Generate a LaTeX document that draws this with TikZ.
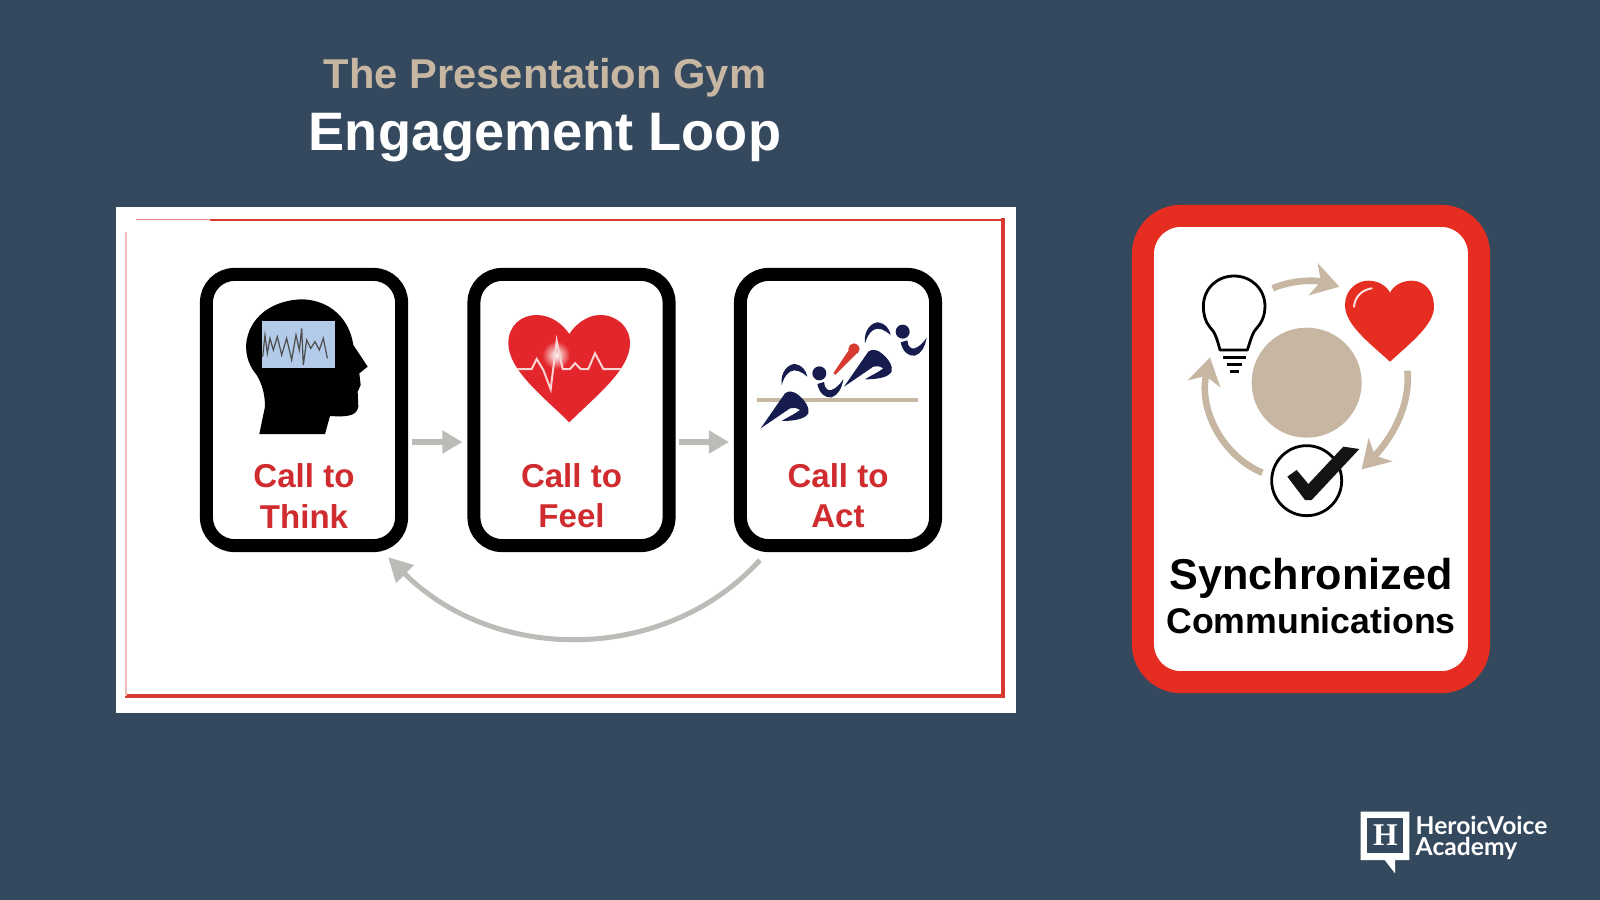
\documentclass[tikz,border=0pt]{standalone}
\usepackage{fontspec}
\setmainfont{Liberation Sans}
\newfontfamily\logofont{Lato}
\newfontfamily\slabfont{Liberation Serif}
\usetikzlibrary{arrows.meta}

\definecolor{bgblue}{HTML}{35495E}
\definecolor{tan}{HTML}{C6B6A2}
\definecolor{callred}{HTML}{D02B2E}
\definecolor{heartred}{HTML}{E3262B}
\definecolor{badgered}{HTML}{E52D22}
\definecolor{framered}{HTML}{D63A30}
\definecolor{runnerblue}{HTML}{171C4E}
\definecolor{arrowgray}{HTML}{BBBBB8}
\definecolor{screenblue}{HTML}{B3CBE8}

\tikzset{
  callbox/.style={draw=black,fill=white,line width=.13cm,rounded corners=.28cm,minimum width=1.95cm,minimum height=2.71cm},
  calltext/.style={text=callred,font=\fontsize{9.4}{11.4}\selectfont\bfseries,align=center},
  grayarrow/.style={arrowgray,line width=.06cm,-{Triangle[length=.2cm,width=.22cm]}},
  tanarrow/.style={tan,line width=.066cm,-{Stealth[length=.27cm,width=.33cm,inset=.08cm]}},
}

\begin{document}
\begin{tikzpicture}[x=.01cm,y=-.01cm]
\path[use as bounding box,fill=bgblue] (0,0) rectangle (1600,900);

% title
\node[text=tan,font=\fontsize{11.85}{13}\selectfont\bfseries] (gym) at (545,78) {The Presentation Gym};
\node[text=white,font=\fontsize{15.4}{18}\selectfont\bfseries] (loop) at (545,138) {Engagement Loop};

% left panel
\node[fill=white,minimum width=9cm,minimum height=5.06cm] (panel) at (566,460) {};
\draw[framered,line width=.035cm,line cap=rect] (1003,220) -- (1003,696) -- (127,696);
\draw[framered!35,line width=.012cm] (126,232) -- (126,696);
\draw[framered!60,line width=.012cm] (136,219.5) -- (210,219.5);
\draw[framered,line width=.022cm] (210,220) -- (1003,220);

\node[callbox] (think) at (304,410) {};
\node[callbox] (feel) at (571.5,410) {};
\node[callbox] (act) at (838,410) {};

\node[calltext] (thinklabel) at (304,496) {Call to\\Think};
\node[calltext] (feellabel) at (571.5,496) {Call to\\Feel};
\node[calltext] (actlabel) at (838,496) {Call to\\Act};

\draw[grayarrow,shorten <=.04cm,shorten >=.05cm] ([yshift=-.32cm]think.east) -- ([yshift=-.32cm]feel.west);
\draw[grayarrow,shorten <=.03cm,shorten >=.05cm] ([yshift=-.32cm]feel.east) -- ([yshift=-.32cm]act.west);

\coordinate (loopstart) at ([shift={(-.78cm,-.08cm)}]act.south);
\coordinate (loopend) at ([shift={(.84cm,-.05cm)}]think.south);
\draw[arrowgray,line width=.05cm,-{Triangle[length=.24cm,width=.24cm]}] (loopstart) .. controls (665,664) and (495,664) .. (loopend);

% head
\begin{scope}[shift={(190,260)},scale=1/3]
\fill[black] (208,522) -- (225,440) .. controls (225,400) and (215,370) .. (200,345) .. controls (170,310) and (165,270) .. (170,240)
  .. controls (185,160) and (260,118) .. (340,118) .. controls (420,122) and (478,175) .. (490,255)
  -- (533,320) -- (508,340) -- (512,375) -- (503,395) -- (505,440) .. controls (500,465) and (480,472) .. (420,468) -- (405,522) -- cycle;
\fill[screenblue] (217,182) rectangle (436,323);
\draw[black!70,line width=.012cm] (218,290) -- (225,225) -- (232,280) -- (240,235) -- (250,270) -- (262,230) -- (275,285) -- (290,235) -- (305,300) -- (318,225) -- (328,270) -- (335,205) -- (340,315) -- (350,240) -- (362,265) -- (375,245) -- (388,270) -- (400,235) -- (412,295);
\end{scope}

% heart with pulse
\begin{scope}[shift={(460,260)},scale=1/3]
\fill[heartred] (328,487) .. controls (250,410) and (145,330) .. (145,250) .. controls (145,195) and (185,165) .. (230,165)
  .. controls (275,165) and (310,195) .. (328,222) .. controls (345,195) and (380,165) .. (420,165)
  .. controls (470,165) and (510,200) .. (510,250) .. controls (510,330) and (405,410) .. cycle;
\shade[inner color=white,outer color=heartred] (288,285) circle (42);
\draw[white!80!heartred,line width=.02cm] (170,327) -- (215,327) -- (230,297) -- (250,330) -- (272,388) -- (290,242) -- (308,327) -- (330,327) -- (345,310) -- (362,327) -- (385,327) -- (405,280) -- (430,327) -- (485,327);
\end{scope}

% runners
\begin{scope}[shift={(730,260)},scale=1/3]
\draw[tan,line width=.045cm] (80,420) -- (565,420);
\foreach \dx/\dy in {0/0,250/-125}{
\begin{scope}[shift={(\dx,\dy)}]
\fill[runnerblue] (268,340) circle (21);
\fill[runnerblue] (155,375) .. controls (150,335) and (175,312) .. (195,312) .. controls (215,315) and (228,330) .. (232,350) .. controls (215,335) and (195,325) .. (180,335) .. controls (165,345) and (160,360) .. cycle;
\fill[runnerblue] (262,372) .. controls (268,400) and (285,415) .. (305,412) .. controls (325,405) and (335,385) .. (340,358) .. controls (325,380) and (305,395) .. (295,390) .. controls (285,385) and (282,375) .. (282,366) -- cycle;
\fill[runnerblue] (92,505) -- (165,400) .. controls (175,390) and (195,395) .. (205,405) .. controls (225,420) and (240,445) .. (235,460) .. controls (225,478) and (190,483) .. (155,483) .. controls (175,470) and (195,462) .. (210,450) .. controls (200,444) and (190,441) .. (180,445) -- cycle;
\end{scope}
}
\fill[framered] (310,340) -- (358,268) -- (378,282) -- (316,344) -- cycle;
\fill[framered] (372,267) circle (17);
\end{scope}

% right badge
\node[draw=badgered,fill=white,line width=.22cm,rounded corners=.38cm,minimum width=3.36cm,minimum height=4.66cm] (badge) at (1311,449) {};

\begin{scope}[shift={(1130,250)},scale=1/3]
\fill[tan] (530,398) circle (165);
% bulb
\draw[black,line width=.028cm,line join=round] (270,300) .. controls (262,270) and (255,245) .. (240,232) .. controls (225,215) and (220,190) .. (220,170)
  .. controls (220,115) and (262,78) .. (312,78) .. controls (362,78) and (405,115) .. (405,170) .. controls (405,190) and (398,215) .. (382,232)
  .. controls (368,245) and (362,270) .. (352,300) -- cycle;
\draw[black,line width=.028cm] (280,322) -- (347,322) (292,343) -- (335,343) (300,364) -- (327,364);
% red heart
\fill[badgered] (780,335) .. controls (720,280) and (645,225) .. (645,165) .. controls (645,120) and (680,92) .. (715,92)
  .. controls (745,92) and (770,108) .. (780,128) .. controls (790,108) and (815,92) .. (845,92)
  .. controls (885,92) and (912,125) .. (912,170) .. controls (912,225) and (840,280) .. cycle;
\draw[white!85!badgered,line width=.02cm,line cap=round] (672,170) .. controls (675,140) and (695,120) .. (725,115);
% check
\draw[black,line width=.028cm] (530,692) circle (105);
\fill[black!92] (472,680) -- (500,660) -- (535,702) -- (640,590) -- (688,597) -- (545,750) -- (525,750) -- cycle;
\coordinate (bulbin) at (240,322);
\coordinate (bulbout) at (428,115);
\coordinate (heartin) at (628,110);
\coordinate (heartout) at (832,362);
\coordinate (checkin) at (695,658);
\coordinate (checkout) at (397,668);
\draw[tanarrow] (bulbout) .. controls (480,92) and (550,88) .. (heartin);
\draw[tanarrow] (heartout) .. controls (842,460) and (790,560) .. (checkin);
\draw[tanarrow] (checkout) .. controls (280,620) and (205,480) .. (bulbin);
\end{scope}

\node[font=\fontsize{12.27}{14}\selectfont\bfseries,text=black] (sync) at (1311,578) {Synchronized};
\node[font=\fontsize{10.15}{12}\selectfont\bfseries,text=black] (comm) at (1311,621) {Communications};

% logo
\begin{scope}[shift={(1340,790)},scale=1/3]
\fill[white] (62,65) rectangle (208,210) (130,205) -- (165,250) -- (165,205) -- cycle;
\fill[bgblue] (82,85) rectangle (188,190);
\end{scope}
\node[text=white,font=\fontsize{9}{9}\selectfont\slabfont\bfseries,inner sep=0pt] (logoh) at (1385.5,835) {H};
\node[text=white,font=\fontsize{7}{6.2}\selectfont\logofont\bfseries,align=left,anchor=west,inner sep=0pt] (logotext) at (1415,838) {HeroicVoice\\Academy};
\end{tikzpicture}
\end{document}
